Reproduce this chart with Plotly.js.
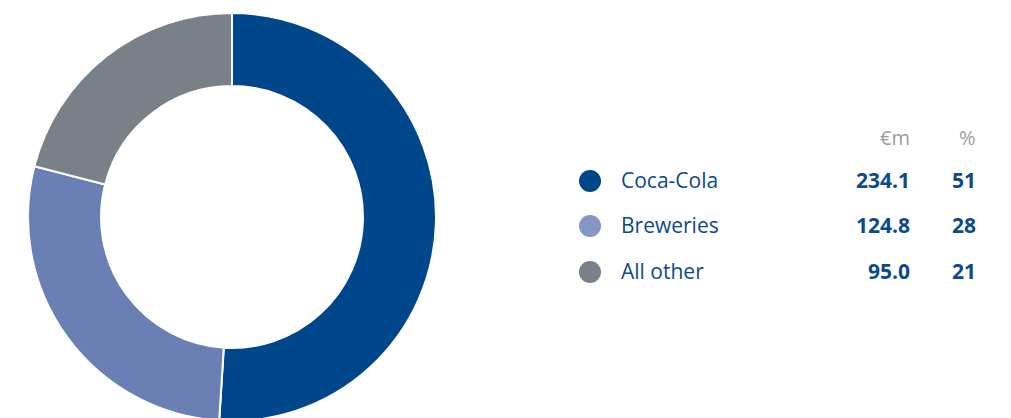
<!DOCTYPE html>
<html>
<head>
<meta charset="utf-8">
<script src="https://cdn.plot.ly/plotly-3.0.1.min.js"></script>
<style>
html,body{margin:0;padding:0;overflow:hidden;background:#fff;}
#chart{width:1011px;height:422px;}
</style>
</head>
<body>
<div id="chart"></div>
<script>
const categories = ["Coca-Cola", "Breweries", "All other"];
const valuesEm = [234.1, 124.8, 95.0];
const percents = [51, 28, 21];
const sliceColors = ["#00468a", "#6a80b4", "#7a8087"];
const dotColors = ["#00468a", "#8596c5", "#7a8087"];
const headers = ["€m", "%"];

const W = 1011, H = 422;
const px = x => x / W;
const py = y => 1 - y / H;

const trace = {
  type: "pie",
  labels: categories,
  values: percents,
  customdata: valuesEm,
  hole: 0.642,
  sort: false,
  direction: "clockwise",
  rotation: 0,
  textinfo: "none",
  hovertemplate: "%{label}: €%{customdata}m (%{value}%)<extra></extra>",
  marker: { colors: sliceColors, line: { color: "#ffffff", width: 2 } },
  domain: { x: [px(28), px(436)], y: [py(421), py(13)] },
  showlegend: false
};

const font = "Open Sans, sans-serif";
const blue = "#0b4a8b";
const annotations = [];
const shapes = [];
const rowY = [180, 225, 271];

annotations.push({ xref: "paper", yref: "paper", x: px(912), y: py(138), xanchor: "right", yanchor: "middle",
  text: headers[0], showarrow: false, font: { family: font, size: 20, color: "#9a9ea2" } });
annotations.push({ xref: "paper", yref: "paper", x: px(978), y: py(138), xanchor: "right", yanchor: "middle",
  text: headers[1], showarrow: false, font: { family: font, size: 20, color: "#9a9ea2" } });

categories.forEach((c, i) => {
  const y = rowY[i];
  shapes.push({ type: "circle", xref: "paper", yref: "paper",
    x0: px(579), x1: px(601), y0: py(y + 12), y1: py(y - 10),
    fillcolor: dotColors[i], line: { width: 0 } });
  annotations.push({ xref: "paper", yref: "paper", x: px(619), y: py(y), xanchor: "left", yanchor: "middle",
    text: c, showarrow: false, font: { family: font, size: 21, color: blue } });
  annotations.push({ xref: "paper", yref: "paper", x: px(912), y: py(y), xanchor: "right", yanchor: "middle",
    text: "<b>" + valuesEm[i].toFixed(1) + "</b>", showarrow: false, font: { family: font, size: 21, color: blue } });
  annotations.push({ xref: "paper", yref: "paper", x: px(978), y: py(y), xanchor: "right", yanchor: "middle",
    text: "<b>" + percents[i] + "</b>", showarrow: false, font: { family: font, size: 21, color: blue } });
});

const layout = {
  width: W, height: H,
  margin: { l: 0, r: 0, t: 0, b: 0, pad: 0 },
  paper_bgcolor: "#ffffff",
  plot_bgcolor: "#ffffff",
  annotations: annotations,
  shapes: shapes,
  showlegend: false
};

Plotly.newPlot("chart", [trace], layout, { displayModeBar: false, staticPlot: true });
</script>
</body>
</html>
